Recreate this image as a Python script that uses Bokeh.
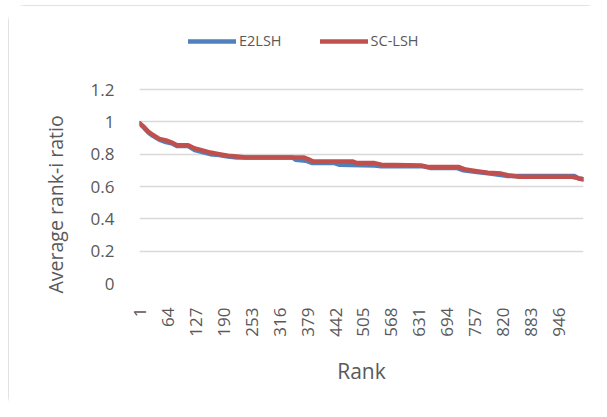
from bokeh.plotting import figure
from bokeh.models import Range1d, FixedTicker, Legend, LegendItem, CustomJSTickFormatter, Title
from bokeh.embed import file_html
from bokeh.resources import INLINE
import math

# ---- data ----
rank_ticks = [1, 64, 127, 190, 253, 316, 379, 442, 505, 568, 631, 694, 757, 820, 883, 946]
y_ticks = [0, 0.2, 0.4, 0.6, 0.8, 1.0, 1.2]

e2lsh_rank = [1, 10, 20, 30, 45, 60, 75, 85, 110, 125, 140, 160, 180, 200, 220,
              345, 352, 375, 390, 440, 450, 530, 545, 640, 655, 715, 730, 760,
              790, 830, 860, 980, 990, 1000]
e2lsh_val = [0.99, 0.965, 0.935, 0.915, 0.89, 0.875, 0.865, 0.85, 0.85, 0.825, 0.815,
             0.80, 0.795, 0.785, 0.78, 0.78, 0.765, 0.76, 0.745, 0.745, 0.735, 0.73,
             0.725, 0.725, 0.715, 0.715, 0.70, 0.69, 0.68, 0.665, 0.665, 0.665,
             0.65, 0.645]

sclsh_rank = [1, 10, 20, 30, 45, 60, 75, 85, 110, 125, 140, 160, 180, 200, 220,
              240, 370, 380, 392, 480, 490, 530, 545, 635, 650, 720, 735, 760,
              785, 815, 830, 855, 975, 990, 1000]
sclsh_val = [0.99, 0.97, 0.94, 0.92, 0.895, 0.885, 0.87, 0.855, 0.855, 0.835, 0.825,
             0.81, 0.80, 0.79, 0.785, 0.78, 0.78, 0.77, 0.755, 0.755, 0.745, 0.745,
             0.735, 0.73, 0.72, 0.72, 0.705, 0.695, 0.685, 0.68, 0.67, 0.66, 0.66,
             0.65, 0.645]

series_names = ["E2LSH", "SC-LSH"]
series_colors = ["#4F81BD", "#C0504D"]

FONT = "Open Sans"
TXT = "#595959"

# the frame reaches above the 1.2 gridline so that the legend sits inside it
p = figure(width=595, height=408, output_backend="svg", toolbar_location=None,
           x_range=Range1d(0.5, 1000.5), y_range=Range1d(0, 1.565),
           min_border_left=131, min_border_right=20, min_border_top=25,
           min_border_bottom=130)
p.margin = (5, 0, 0, 8)
p.styles = {"outline": "1.5px solid #D9D9D9", "outline-offset": "-1.5px",
            "border-radius": "16px"}
p.outline_line_color = None
p.background_fill_color = "white"
p.border_fill_color = "white"

r1 = p.line(e2lsh_rank, e2lsh_val, color=series_colors[0], line_width=4.5,
            line_join="round", line_cap="round")
r2 = p.line(sclsh_rank, sclsh_val, color=series_colors[1], line_width=4.5,
            line_join="round", line_cap="round")

# axes
p.xaxis.ticker = FixedTicker(ticks=rank_ticks)
p.xaxis.major_label_orientation = math.pi / 2
p.xaxis.axis_label = "Rank"
p.yaxis.ticker = FixedTicker(ticks=y_ticks)
p.yaxis.formatter = CustomJSTickFormatter(code="return String(Math.round(tick*10)/10);")

for ax in (p.xaxis[0], p.yaxis[0]):
    ax.axis_line_color = None
    ax.major_tick_line_color = None
    ax.minor_tick_line_color = None
    ax.major_label_text_font = FONT
    ax.major_label_text_font_size = "17px"
    ax.major_label_text_color = TXT
    ax.axis_label_text_font = FONT
    ax.axis_label_text_font_size = "21px"
    ax.axis_label_text_font_style = "normal"
    ax.axis_label_text_color = TXT

p.xaxis.major_label_standoff = 18
p.yaxis.major_label_standoff = 19
p.xaxis.axis_label_standoff = 17

# y axis title, anchored near the bottom of the 0..1.2 plot area
ytitle = Title(text="Average rank-i ratio", align="left", offset=-10,
               text_font=FONT, text_font_size="19.5px", text_font_style="normal",
               text_color=TXT, standoff=38)
p.add_layout(ytitle, "left")

p.xgrid.grid_line_color = None
p.ygrid.ticker = FixedTicker(ticks=y_ticks)
p.ygrid.grid_line_color = "#D9D9D9"
p.ygrid.grid_line_width = 1.3

legend = Legend(items=[LegendItem(label=series_names[0], renderers=[r1]),
                       LegendItem(label=series_names[1], renderers=[r2])],
                location=(49, 233), orientation="horizontal",
                glyph_width=48, glyph_height=16, label_height=16,
                label_standoff=3, spacing=38, padding=0, margin=0,
                label_text_font=FONT, label_text_font_size="14.5px",
                label_text_color=TXT, background_fill_alpha=0,
                border_line_color=None)
p.add_layout(legend, "center")

open("out.html", "w").write(file_html(p, INLINE))
